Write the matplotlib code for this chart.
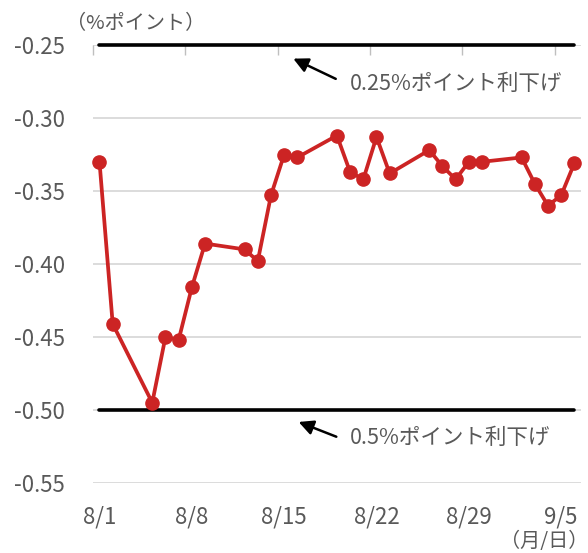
import pandas as pd
import numpy as np
import matplotlib
matplotlib.use("Agg")
import matplotlib.pyplot as plt

plt.rcParams['font.family'] = ['Noto Sans CJK JP', 'DejaVu Sans']

# data
dates = ["2019-08-01", "2019-08-02", "2019-08-05", "2019-08-06", "2019-08-07",
         "2019-08-08", "2019-08-09", "2019-08-12", "2019-08-13", "2019-08-14",
         "2019-08-15", "2019-08-16", "2019-08-19", "2019-08-20", "2019-08-21",
         "2019-08-22", "2019-08-23", "2019-08-26", "2019-08-27", "2019-08-28",
         "2019-08-29", "2019-08-30", "2019-09-02", "2019-09-03", "2019-09-04",
         "2019-09-05", "2019-09-06"]
values = [-0.330, -0.441, -0.495, -0.450, -0.452,
          -0.416, -0.386, -0.390, -0.398, -0.353,
          -0.325, -0.327, -0.312, -0.337, -0.342,
          -0.313, -0.338, -0.322, -0.333, -0.342,
          -0.330, -0.330, -0.327, -0.345, -0.360,
          -0.353, -0.331]
cut_25 = -0.25
cut_50 = -0.50
tick_dates = ["2019-08-01", "2019-08-08", "2019-08-15", "2019-08-22", "2019-08-29", "2019-09-05"]
tick_labels = ["8/1", "8/8", "8/15", "8/22", "8/29", "9/5"]
yticks = [-0.55, -0.50, -0.45, -0.40, -0.35, -0.30, -0.25]

start = pd.Timestamp("2019-08-01")
end = pd.Timestamp("2019-09-07")
days = (pd.to_datetime(dates) - start).days.values + 0.5
tdays = (pd.to_datetime(tick_dates) - start).days.values
span = (end - start).days

gray = '#595959'
red = '#CC2424'

fig = plt.figure(figsize=(5.88, 5.53), dpi=100)
ax = fig.add_axes([0.158, 0.1266, 0.830, 0.7920])

ax.set_xlim(0, span)
ax.set_ylim(-0.55, -0.25)

for y in yticks:
    ax.axhline(y, color='#D9D9D9', lw=1.3, zorder=0)

ax.plot([days[0], days[-1]], [cut_25, cut_25], color='black', lw=2.6, zorder=2,
        solid_capstyle='round', clip_on=False)
ax.plot([days[0], days[-1]], [cut_50, cut_50], color='black', lw=2.6, zorder=2,
        solid_capstyle='round', clip_on=False)
ax.plot(days, values, color=red, lw=2.7, marker='o', ms=9.5, zorder=3, clip_on=False)

for s in ax.spines.values():
    s.set_visible(False)

ax.set_yticks(yticks)
ax.set_yticklabels(["%.2f" % y for y in yticks])
ax.tick_params(axis='y', length=0, pad=20, labelsize=16, labelcolor=gray)

ax.set_xticks(tdays + 0.5)
ax.set_xticklabels(tick_labels)
ax.set_xticks(tdays, minor=True)
ax.tick_params(axis='x', which='major', length=0, pad=16, labelsize=16, labelcolor=gray)
ax.tick_params(axis='x', which='minor', top=True, bottom=False, direction='in',
               length=7, width=1, color='#BFBFBF')

# annotations
ax.annotate('', xy=(15.0, -0.2585), xytext=(18.6, -0.274),
            arrowprops=dict(arrowstyle='-|>', color='black', lw=1.8, mutation_scale=22))
ax.text(19.5, -0.2765, '0.25%ポイント利下げ', fontsize=15.5, color=gray, va='center', ha='left')
ax.annotate('', xy=(15.4, -0.5075), xytext=(18.65, -0.519),
            arrowprops=dict(arrowstyle='-|>', color='black', lw=1.8, mutation_scale=22))
ax.text(19.5, -0.519, '0.5%ポイント利下げ', fontsize=15.5, color=gray, va='center', ha='left')

fig.text(66 / 588, 1 - 24 / 553, '（%ポイント）', fontsize=14.5, color=gray, va='center', ha='left')
fig.text(1.0, 1 - 541 / 553, '（月/日）', fontsize=14.5, color=gray, va='center', ha='right')

fig.savefig('out.png', dpi=100)
